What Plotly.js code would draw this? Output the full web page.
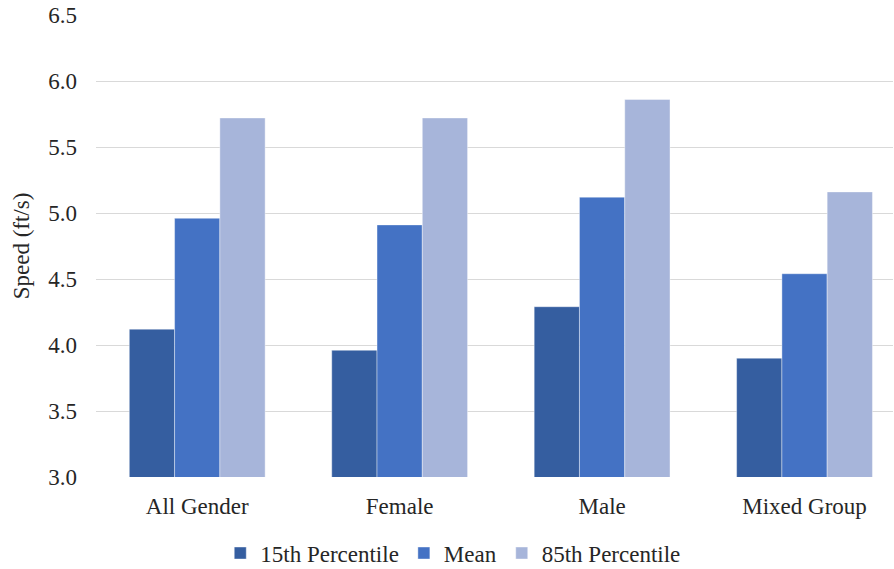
<!DOCTYPE html>
<html>
<head>
<meta charset="utf-8">
<script src="https://cdn.plot.ly/plotly-3.0.1.min.js"></script>
<style>html,body{margin:0;padding:0;background:#fff;}#chart{width:894px;height:569px;}</style>
</head>
<body>
<div id="chart"></div>
<script>
var categories = ["All Gender", "Female", "Male", "Mixed Group"];
var p15 = [4.12, 3.96, 4.29, 3.90];
var meanVals = [4.96, 4.91, 5.12, 4.54];
var p85 = [5.72, 5.72, 5.86, 5.16];
var seriesNames = ["15th Percentile", "Mean", "85th Percentile"];
var colors = ["#355EA0", "#4472C4", "#A7B5DA"];
var yTicks = [3.0, 3.5, 4.0, 4.5, 5.0, 5.5, 6.0, 6.5];

var fam = "Liberation Serif";
var col = "#262626";
var vals = [p15, meanVals, p85];
var traces = vals.map(function (v, i) {
  return {
    type: "bar", name: seriesNames[i], x: categories, y: v,
    marker: {color: colors[i], line: {color: "rgba(255,255,255,0.5)", width: 0.8}}
  };
});

var layout = {
  width: 894, height: 569,
  margin: {l: 96, r: 1, t: 15, b: 92},
  paper_bgcolor: "#fff", plot_bgcolor: "#fff",
  font: {family: fam, size: 23, color: col},
  barmode: "group", bargap: 0.329, bargroupgap: 0,
  showlegend: true,
  legend: {
    orientation: "h", xref: "container", yref: "container",
    x: 0.507, xanchor: "center", y: 0.028, yanchor: "middle",
    font: {family: fam, size: 23, color: col},
    itemwidth: 30, itemgap: 0, traceorder: "normal"
  },
  xaxis: {
    type: "category", range: [-0.5, 3.437],
    showgrid: false, zeroline: false, showline: false,
    ticks: "", ticklabelstandoff: 13,
    tickfont: {family: fam, size: 23, color: col}
  },
  yaxis: {
    range: [3.0, 6.5], tickvals: yTicks,
    ticktext: yTicks.map(function (t) { return t.toFixed(1); }),
    showgrid: true, gridcolor: "#D9D9D9", gridwidth: 1,
    zeroline: false, showline: false, ticks: "", ticklabelstandoff: 18,
    tickfont: {family: fam, size: 23, color: col},
    title: {text: "Speed (ft/s)", font: {family: fam, size: 23, color: col}, standoff: 12}
  }
};

Plotly.newPlot("chart", traces, layout, {displayModeBar: false, staticPlot: true});
</script>
</body>
</html>
